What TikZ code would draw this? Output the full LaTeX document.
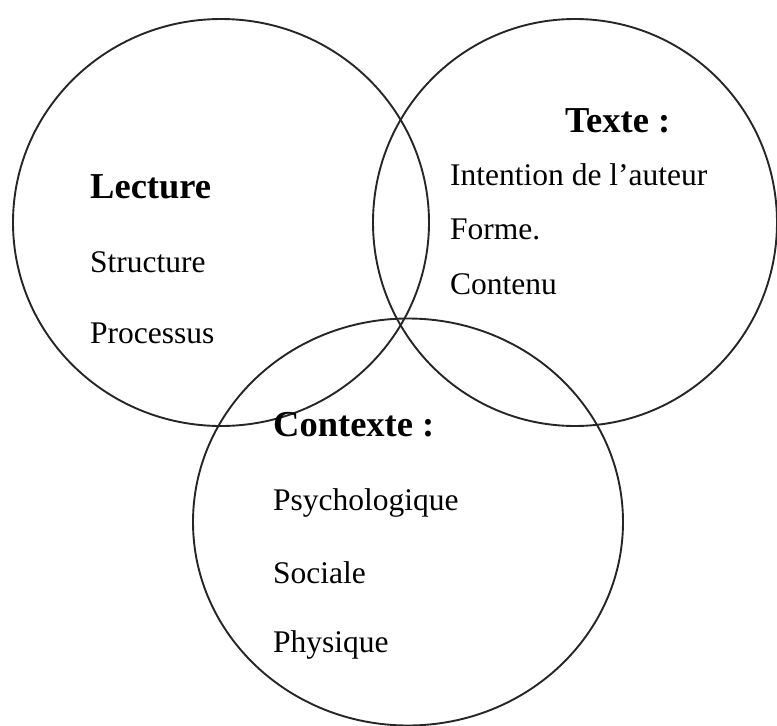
\documentclass[tikz,border=0pt]{standalone}
\usepackage{fontspec}
\setmainfont{Liberation Serif}
\begin{document}
\begin{tikzpicture}[x=1pt,y=-1pt,
  ring/.style={draw=black!85,line width=1.9pt},
  head/.style={anchor=base west,inner sep=0pt,font=\fontsize{36.5}{40}\selectfont\bfseries},
  item/.style={anchor=base west,inner sep=0pt,font=\fontsize{31.5}{36}\selectfont}]
\useasboundingbox (0,0) rectangle (777,726);
\draw[ring] (221,222.5) ellipse [x radius=208, y radius=203.5];
\draw[ring] (575,222.5) ellipse [x radius=202, y radius=203.5];
\draw[ring] (408,522) ellipse [x radius=215, y radius=203.5];
\node[head] (lecture) at (90,198) {Lecture};
\node[item] (structure) at (90,272) {Structure};
\node[item] (processus) at (90,343) {Processus};
\node[head] (texte) at (565,132) {Texte :};
\node[item] (intention) at (450,185) {Intention de l’auteur};
\node[item] (forme) at (450,239) {Forme.};
\node[item] (contenu) at (450,294) {Contenu};
\node[head] (contexte) at (273,436) {Contexte :};
\node[item] (psycho) at (273,510) {Psychologique};
\node[item] (sociale) at (273,583) {Sociale};
\node[item] (physique) at (273,652) {Physique};
\end{tikzpicture}
\end{document}
